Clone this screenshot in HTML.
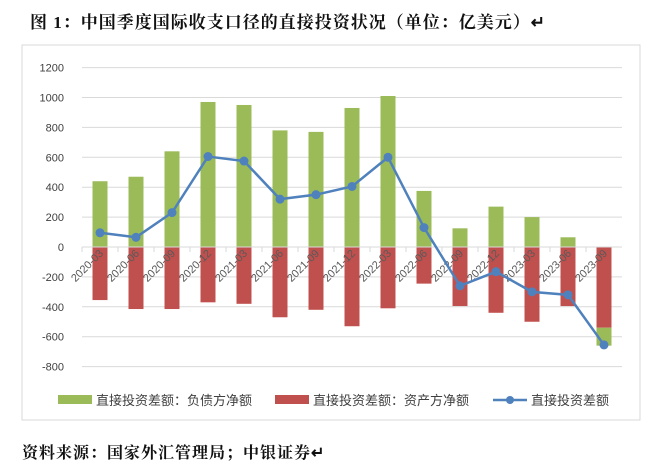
<!DOCTYPE html>
<html><head><meta charset="utf-8"><style>
body{margin:0;background:#fff;width:658px;height:473px;overflow:hidden;position:relative;font-family:"Liberation Serif","Noto Serif CJK SC",serif}
.title{position:absolute;left:30px;top:8px;font-size:17px;font-weight:bold;color:#111;letter-spacing:1px;white-space:nowrap}
.src{position:absolute;left:22px;top:440px;font-size:16px;font-weight:bold;color:#111;letter-spacing:1px}
svg{position:absolute;left:0;top:0}
</style></head><body>
<div class="title">图 1：中国季度国际收支口径的直接投资状况（单位：亿美元）↵</div>
<svg id="c" width="658" height="473"></svg>
<div class="src">资料来源：国家外汇管理局；中银证券↵</div>
<script>
const categories=["2020-03","2020-06","2020-09","2020-12","2021-03","2021-06","2021-09","2021-12","2022-03","2022-06","2022-09","2022-12","2023-03","2023-06","2023-09"];
const liabilities=[440,470,640,970,950,780,770,930,1010,375,125,270,200,65,-120];
const assets=[-355,-415,-415,-370,-380,-470,-420,-530,-410,-245,-395,-440,-500,-395,-540];
const net=[95,65,230,605,575,320,350,405,600,130,-260,-165,-300,-320,-655];
const ticks=[1200,1000,800,600,400,200,0,-200,-400,-600,-800];
const NS="http://www.w3.org/2000/svg",svg=document.getElementById('c');
const x0=82,x1=622,y0=247,k=299/2000,cw=(x1-x0)/categories.length;
const y=v=>y0-v*k, xc=i=>x0+cw*(i+0.5);
function el(t,a){const e=document.createElementNS(NS,t);for(const n in a)e.setAttribute(n,a[n]);svg.appendChild(e);return e;}
let b=el('rect',{x:22,y:45,width:618,height:375,fill:'none',stroke:'#d9d9d9'});

ticks.forEach(t=>{
 let g=el('line',{x1:x0,x2:x1,y1:y(t),y2:y(t),stroke:'#d9d9d9'});
 
 let l=el('text',{x:64,y:y(t)+4,'text-anchor':'end','font-size':11,fill:'#404040','font-family':'Liberation Sans'});
 l.textContent=t;
});
categories.forEach((c,i)=>{
 let tk=el('line',{x1:x0+cw*i,x2:x0+cw*i,y1:y0,y2:y0+5,stroke:'#d9d9d9'});
 
 const bw=15,bx=xc(i)-bw/2;
 let a=assets[i],lv=liabilities[i];
 let r=el('rect',{x:bx,y:y(0),width:bw,height:-a*k,fill:'#c0504d'});
 
 let gb;
 if(lv>=0) gb=el('rect',{x:bx,y:y(lv),width:bw,height:lv*k,fill:'#9bbb59'});
 else gb=el('rect',{x:bx,y:y(a),width:bw,height:-lv*k,fill:'#9bbb59'});
 
});
el('line',{x1:x0,x2:x1,y1:y0,y2:y0,stroke:'#d9d9d9'});
categories.forEach((c,i)=>{
 let t=el('text',{x:xc(i)+4,y:y0+7,'text-anchor':'end','font-size':11,fill:'#595959','font-family':'Liberation Sans',transform:`rotate(-45 ${xc(i)+4} ${y0+7})`});
 t.textContent=c;
});
let p=el('polyline',{points:net.map((v,i)=>xc(i)+','+y(v)).join(' '),fill:'none',stroke:'#4f81bd','stroke-width':2.5});

net.forEach((v,i)=>{let d=el('circle',{cx:xc(i),cy:y(v),r:4.5,fill:'#4f81bd'});
 });
const leg=[["直接投资差额：负债方净额",'#9bbb59',58,'rect'],["直接投资差额：资产方净额",'#c0504d',275,'rect'],["直接投资差额",'#4f81bd',493,'line']];
leg.forEach(([n,c,lx,t])=>{
 let m;
 if(t=='rect') m=el('rect',{x:lx,y:395,width:34,height:9,fill:c});
 else{m=el('line',{x1:lx,x2:lx+34,y1:400,y2:400,stroke:c,'stroke-width':2.5});el('circle',{cx:lx+17,cy:400,r:4,fill:c});}
 
 let tx=el('text',{x:lx+38,y:405,'font-size':13,fill:'#404040','font-family':'Liberation Sans, Noto Sans CJK SC, sans-serif'});
 tx.textContent=n;
});
</script>
</body></html>
